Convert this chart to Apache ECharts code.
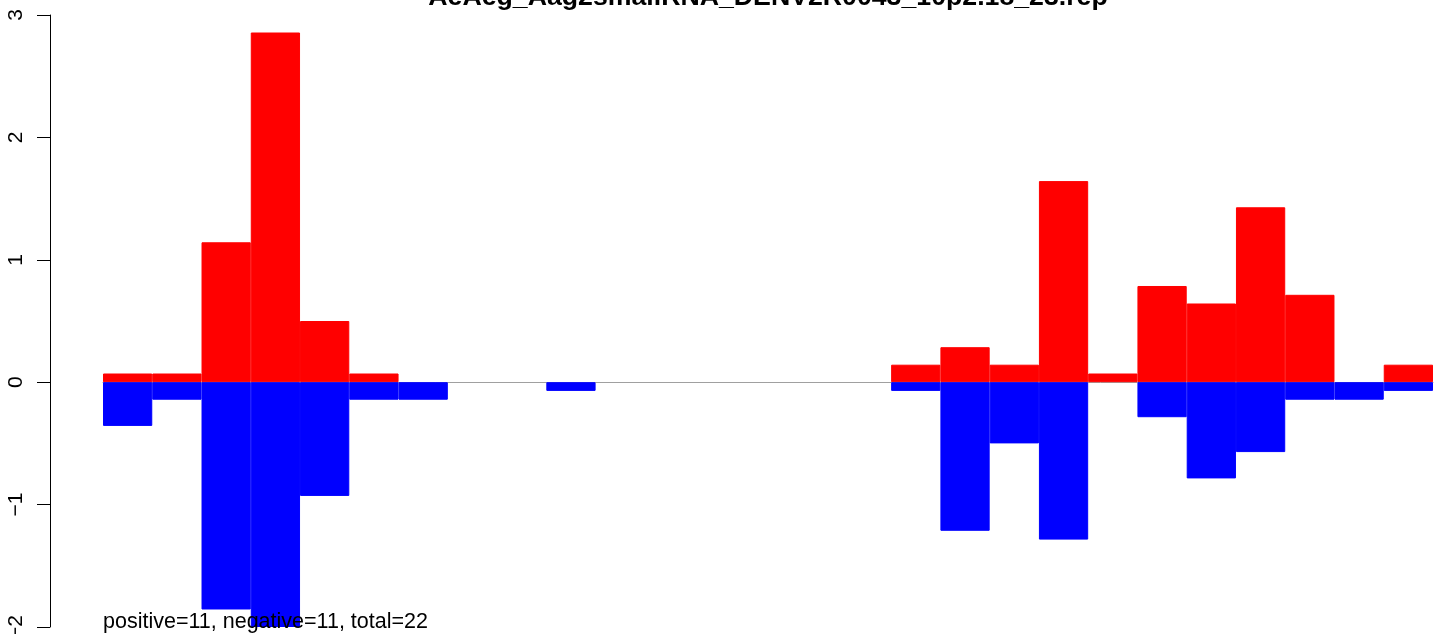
<!DOCTYPE html>
<html>
<head>
<meta charset="utf-8">
<script src="https://cdn.jsdelivr.net/npm/echarts@6/dist/echarts.min.js"></script>
<style>
html,body{margin:0;padding:0;background:#fff;}
#c{width:1439px;height:634px;}
</style>
</head>
<body>
<div id="c"></div>
<script>
var titleText = "AeAeg_Aag2smallRNA_DENV2R0043_10p2.18_23.rep";
var noteText = "positive=11, negative=11, total=22";
var categories = ["1","2","3","4","5","6","7","8","9","10","11","12","13","14","15","16","17","18","19","20","21","22","23","24","25","26","27"];
var positiveValues = [0.071,0.071,1.143,2.857,0.5,0.071,0,0,0,0,0,0,0,0,0,0,0.143,0.286,0.143,1.643,0.071,0.786,0.643,1.429,0.714,0,0.143];
var negativeValues = [-0.357,-0.143,-1.857,-2.0,-0.929,-0.143,-0.143,0,0,-0.071,0,0,0,0,0,0,-0.071,-1.214,-0.5,-1.286,0,-0.286,-0.786,-0.571,-0.143,-0.143,-0.071];
var yTicks = [-2,-1,0,1,2,3];

function skipZero(arr){ return arr.map(function(v){ return v === 0 ? '-' : v; }); }

var chart = echarts.init(document.getElementById('c'), null, {renderer:'canvas'});
var font = '"Liberation Sans", Arial, Helvetica, sans-serif';
chart.setOption({
  animation:false,
  backgroundColor:'#ffffff',
  grid:{left:103, right:6, top:15, bottom:7, containLabel:false, outerBoundsMode:'none'},
  xAxis:{
    type:'category', data:categories, boundaryGap:true,
    axisLine:{show:true, onZero:true, lineStyle:{color:'#a0a0a0', width:1}},
    axisTick:{show:false}, axisLabel:{show:false}, splitLine:{show:false}
  },
  yAxis:{
    type:'value', min:yTicks[0], max:yTicks[yTicks.length-1], interval:1, offset:53,
    axisLine:{show:true, lineStyle:{color:'#000', width:1}},
    axisTick:{show:true, length:13, lineStyle:{color:'#000', width:1}},
    axisLabel:{show:true, rotate:90, margin:23, fontSize:21, color:'#000', fontFamily:font,
      formatter:function(v){return v<0 ? '\u2212'+Math.abs(v) : String(v);}},
    splitLine:{show:false}
  },
  series:[
    {type:'bar', data:skipZero(positiveValues), barWidth:'100%', barGap:'-100%', itemStyle:{color:'#ff0000', borderColor:'#ff0000', borderWidth:1}, silent:true},
    {type:'bar', data:skipZero(negativeValues), barWidth:'100%', barGap:'-100%', itemStyle:{color:'#0000ff', borderColor:'#0000ff', borderWidth:1}, silent:true}
  ],
  graphic:[
    {type:'text', x:768, y:-2, z:100, style:{text:titleText, font:'bold 26.7px '+font, fill:'#000', align:'center', verticalAlign:'middle'}},
    {type:'text', x:103, y:622, z:100, style:{text:noteText, font:'21.5px '+font, fill:'#000', align:'left', verticalAlign:'middle'}}
  ]
});
</script>
</body>
</html>
